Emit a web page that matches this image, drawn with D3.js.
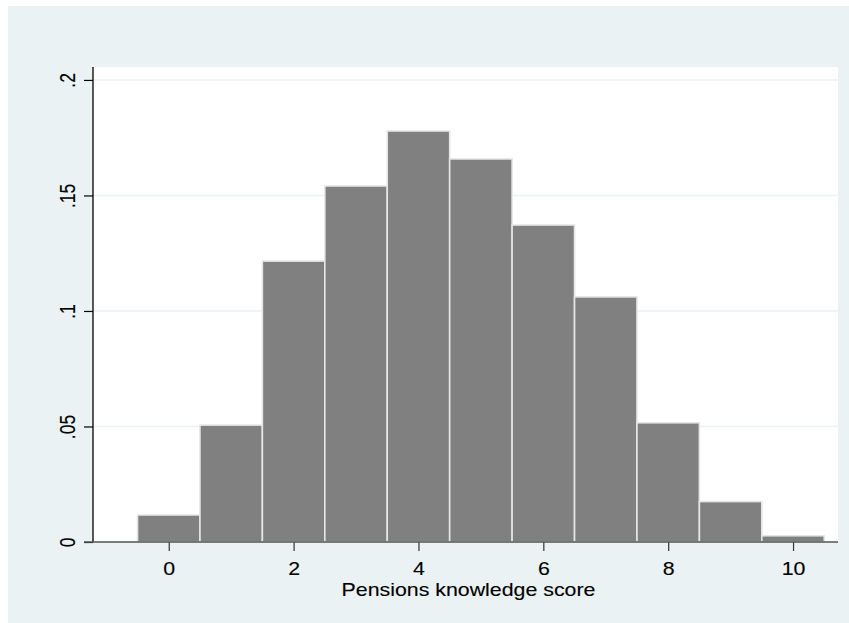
<!DOCTYPE html>
<html>
<head>
<meta charset="utf-8">
<script src="https://cdn.jsdelivr.net/npm/d3@7"></script>
<style>
  html, body { margin: 0; padding: 0; background: #ffffff; }
  svg { display: block; }
  text { font-family: "Liberation Sans", Arial, Helvetica, sans-serif; fill: #000; stroke: #000; stroke-width: 0.12; }
</style>
</head>
<body>
<svg id="chart" width="849" height="623"></svg>
<script>
// Histogram of pensions knowledge score (density per integer bin)
const scores = [0, 1, 2, 3, 4, 5, 6, 7, 8, 9, 10];
const density = [0.0117, 0.0506, 0.1216, 0.1541, 0.1779, 0.1658, 0.1372, 0.1061, 0.0516, 0.0175, 0.0027];
const xTicks = [0, 2, 4, 6, 8, 10];
const yTicks = [0, 0.05, 0.1, 0.15, 0.2];
const yTickLabels = ["0", ".05", ".1", ".15", ".2"];
const xTitle = "Pensions knowledge score";

const W = 849, H = 623;
const outer = { left: 8, top: 6 };
const plot = { left: 93, right: 838, top: 67, bottom: 542 };
const stretch = 1.22;   // horizontal glyph stretch
const fontSize = 17.5;

const svg = d3.select("#chart");

// graph background
svg.append("rect")
  .attr("x", outer.left).attr("y", outer.top)
  .attr("width", W - outer.left).attr("height", H - outer.top)
  .attr("fill", "#eaf2f3");

// plot region
svg.append("rect")
  .attr("x", plot.left).attr("y", plot.top)
  .attr("width", plot.right - plot.left).attr("height", plot.bottom - plot.top)
  .attr("fill", "#ffffff");

const x = d3.scaleLinear().domain([-1.213, 10.72]).range([plot.left, plot.right]);
const y = d3.scaleLinear().domain([0, 0.2056]).range([plot.bottom, plot.top]);

// horizontal gridlines
svg.append("g")
  .selectAll("line")
  .data(yTicks.filter(d => d > 0))
  .join("line")
  .attr("x1", plot.left).attr("x2", plot.right)
  .attr("y1", d => y(d)).attr("y2", d => y(d))
  .attr("stroke", "#eaf2f3").attr("stroke-width", 1.6);

// bars
svg.append("g")
  .selectAll("rect")
  .data(scores.map((s, i) => ({ s, v: density[i] })))
  .join("rect")
  .attr("x", d => x(d.s - 0.5))
  .attr("width", d => x(d.s + 0.5) - x(d.s - 0.5))
  .attr("y", d => y(d.v))
  .attr("height", d => y(0) - y(d.v))
  .attr("fill", "#808080")
  .attr("stroke", "#e6e6e6")
  .attr("stroke-width", 1.6);

// y axis
const yAxis = d3.axisLeft(y).tickValues(yTicks).tickSize(9).tickFormat(() => "");
const gy = svg.append("g").attr("transform", `translate(${plot.left},0)`).call(yAxis);
gy.select(".domain").remove();
gy.selectAll(".tick line").attr("stroke", "#000").attr("stroke-width", 1.2);
svg.append("line")
  .attr("x1", plot.left).attr("x2", plot.left)
  .attr("y1", plot.bottom).attr("y2", plot.top)
  .attr("stroke", "#000").attr("stroke-width", 1.3);

gy.selectAll(".tick").append("text")
  .attr("transform", `translate(-18,0) scale(${stretch},1) rotate(-90)`)
  .attr("text-anchor", "middle")
  .attr("font-size", fontSize)
  .attr("fill", "#000")
  .text((d, i) => yTickLabels[i]);

// x axis
const xAxis = d3.axisBottom(x).tickValues(xTicks).tickSize(9).tickFormat(() => "");
const gx = svg.append("g").attr("transform", `translate(0,${plot.bottom})`).call(xAxis);
gx.select(".domain").remove();
gx.selectAll(".tick line").attr("stroke", "#333").attr("stroke-width", 1.2);
svg.append("line")
  .attr("x1", plot.left - 9).attr("x2", plot.right)
  .attr("y1", plot.bottom).attr("y2", plot.bottom)
  .attr("stroke", "#555").attr("stroke-width", 1.6);

gx.selectAll(".tick").append("text")
  .attr("transform", `translate(0,33) scale(${stretch},1)`)
  .attr("text-anchor", "middle")
  .attr("font-size", fontSize)
  .attr("fill", "#000")
  .text(d => d);

// x axis title
svg.append("text")
  .attr("transform", `translate(${(plot.left + plot.right) / 2 + 3},${595.5}) scale(${stretch},1)`)
  .attr("text-anchor", "middle")
  .attr("font-size", fontSize)
  .text(xTitle);
</script>
</body>
</html>
